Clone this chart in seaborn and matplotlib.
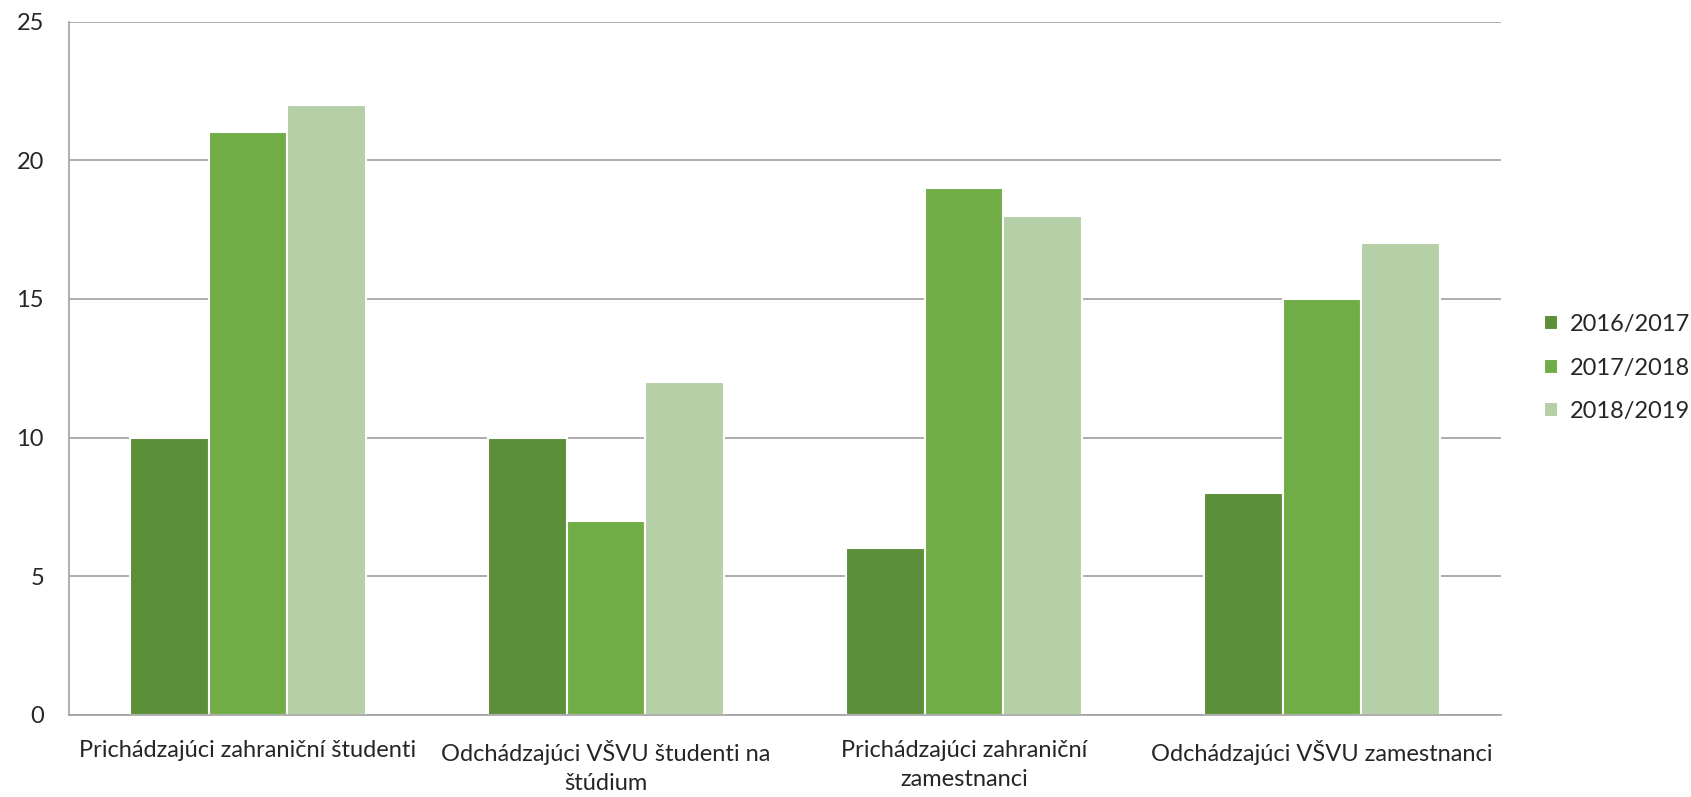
import numpy as np
import pandas as pd
import matplotlib
matplotlib.use("Agg")
import matplotlib.pyplot as plt
import seaborn as sns

# data
kategorie = [
    "Prichádzajúci zahraniční študenti",
    "Odchádzajúci VŠVU študenti na\nštúdium",
    "Prichádzajúci zahraniční\nzamestnanci",
    "Odchádzajúci VŠVU zamestnanci",
]
roky = ["2016/2017", "2017/2018", "2018/2019"]
hodnoty_2016 = [10, 10, 6, 8]
hodnoty_2017 = [21, 7, 19, 15]
hodnoty_2018 = [22, 12, 18, 17]
farby = ["#5B8F3A", "#70AD47", "#B5CFA6"]

df = pd.DataFrame({
    "kategoria": kategorie * 3,
    "rok": [r for r in roky for _ in kategorie],
    "hodnota": hodnoty_2016 + hodnoty_2017 + hodnoty_2018,
})

sns.set_style("white")
plt.rcParams["font.family"] = ["Lato", "DejaVu Sans"]
fs = 17

fig = plt.figure(figsize=(16.91, 7.97), dpi=100)
ax = fig.add_axes([0.0408, 0.103, 0.8469, 0.870])

sns.barplot(data=df, x="kategoria", y="hodnota", hue="rok", palette=farby,
            width=0.66, edgecolor="white", linewidth=1.5, saturation=1,
            ax=ax, legend=True)

ax.set_ylim(0, 25)
ax.set_xlim(-0.5, len(kategorie) - 0.5)
ax.set_yticks([0, 5, 10, 15, 20, 25])
ax.yaxis.grid(True, color="#A0A0A0", linewidth=1.2)
ax.set_axisbelow(True)
ax.set_xlabel("")
ax.set_ylabel("")

for s in ["top", "right"]:
    ax.spines[s].set_visible(False)
for s in ["left", "bottom"]:
    ax.spines[s].set_color("#A0A0A0")
    ax.spines[s].set_linewidth(1.2)

ax.tick_params(axis="y", which="major", length=8, color="#A0A0A0", width=1.2,
               labelsize=fs, pad=10)
ax.tick_params(axis="x", which="major", length=0, labelsize=fs, pad=18)
ax.set_xticks(np.arange(-0.5, len(kategorie)), minor=True)
ax.tick_params(axis="x", which="minor", length=8, color="#A0A0A0", width=1.2)
for t in ax.get_xticklabels():
    t.set_linespacing(1.45)

leg = ax.legend(loc="center left", bbox_to_anchor=(1.015, 0.5), frameon=False,
                fontsize=fs, handlelength=0.6, handleheight=0.6,
                handletextpad=0.5, labelspacing=0.95)

fig.savefig("out.png", dpi=100)
